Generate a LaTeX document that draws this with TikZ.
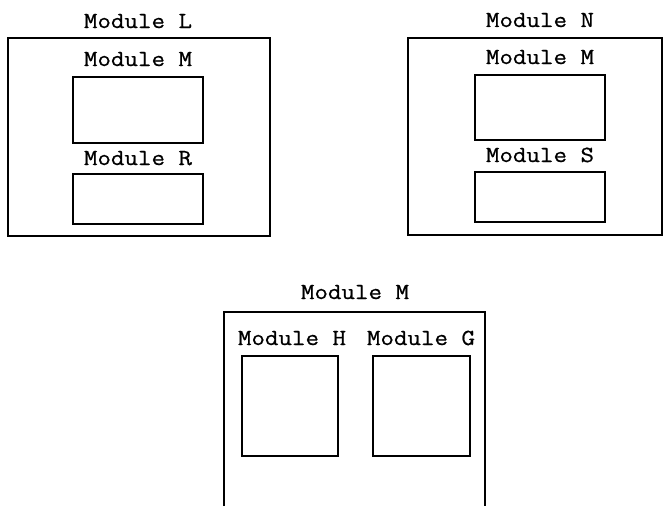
\documentclass[tikz,border=0pt]{standalone}
\usepackage{fontspec}
\newfontfamily\modfont[FakeStretch=1.14, FakeBold=0.7]{Latin Modern Mono}
\usetikzlibrary{positioning}
\tikzset{
  modbox/.style={draw, line width=1.3pt, inner sep=0pt},
  modlabel/.style={font=\modfont\fontsize{23}{26}\selectfont, inner sep=0pt, anchor=base}
}
\begin{document}
\begin{tikzpicture}[x=1pt, y=-1pt]
  \useasboundingbox (0,0) rectangle (663,506);

  % Module L with M and R inside
  \node[modbox, minimum width=262, minimum height=198] (boxL) at (139,137) {};
  \node[modlabel] (labL) at (138,28) {Module L};
  \node[modbox, minimum width=130, minimum height=66] (boxLM) at (138,110) {};
  \node[modlabel] (labLM) at (138,66) {Module M};
  \node[modbox, minimum width=130, minimum height=50] (boxLR) at (138,199) {};
  \node[modlabel] (labLR) at (138,165) {Module R};

  % Module N with M and S inside
  \node[modbox, minimum width=254, minimum height=197] (boxN) at (535,136.5) {};
  \node[modlabel] (labN) at (540,27) {Module N};
  \node[modbox, minimum width=130, minimum height=65] (boxNM) at (540,107.5) {};
  \node[modlabel] (labNM) at (540,64) {Module M};
  \node[modbox, minimum width=130, minimum height=50] (boxNS) at (540,197) {};
  \node[modlabel] (labNS) at (540,162) {Module S};

  % Module M, open at the bottom
  \coordinate (mmA) at (224,506);
  \coordinate (mmB) at (224,312);
  \coordinate (mmC) at (485,312);
  \coordinate (mmD) at (485,506);
  \draw[line width=1.3pt] (mmA) -- (mmB) -- (mmC) -- (mmD);
  \node[modlabel] (labM) at (355,299) {Module M};
  \node[modbox, minimum width=96, minimum height=100] (boxH) at (290,406) {};
  \node[modlabel] (labH) at (292,345) {Module H};
  \node[modbox, minimum width=97, minimum height=100] (boxG) at (421.5,406) {};
  \node[modlabel] (labG) at (421,345) {Module G};
\end{tikzpicture}
\end{document}
